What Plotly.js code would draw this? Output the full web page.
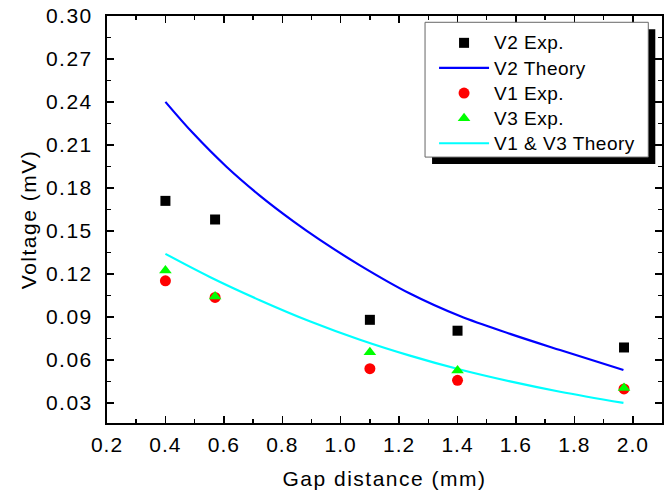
<!DOCTYPE html>
<html>
<head>
<meta charset="utf-8">
<script src="https://cdn.plot.ly/plotly-3.0.1.min.js"></script>
<style>
html,body{margin:0;padding:0;background:#fff;}
#chart{width:672px;height:493px;}
#chart .ytick text{letter-spacing:1.5px;}
#chart .xtick text{letter-spacing:1px;}
#chart .xtitle, #chart .ytitle{letter-spacing:1.5px;}
#chart .legendtext{letter-spacing:0.5px; font-size:19px !important;}
#chart .legend, #chart .legend .scrollbox{clip-path:none !important;}
</style>
</head>
<body>
<div id="chart"></div>
<script>
// Experimental data
const gapExp = [0.40, 0.57, 1.10, 1.40, 1.97];
const v2Exp = [0.171, 0.158, 0.088, 0.0804, 0.0687];
const v1Exp = [0.1152, 0.1036, 0.0539, 0.0458, 0.0398];
const v3Exp = [0.1224, 0.1043, 0.0653, 0.0527, 0.0405];

// Theory curves
const gapTheory = [0.40, 0.495, 0.609, 0.723, 0.837, 0.929, 1.066, 1.237, 1.408, 1.580, 1.751, 1.968];
const v2Theory = [0.2401, 0.2181, 0.1948, 0.1747, 0.1569, 0.1438, 0.1260, 0.1063, 0.0906, 0.0782, 0.0669, 0.0530];
const gapTheory13 = [0.40, 0.552, 0.723, 0.894, 1.066, 1.237, 1.408, 1.580, 1.751, 1.968];
const v13Theory = [0.134, 0.1179, 0.1017, 0.0870, 0.0741, 0.0630, 0.0533, 0.0450, 0.0378, 0.0300];

const yTicks = [0.03, 0.06, 0.09, 0.12, 0.15, 0.18, 0.21, 0.24, 0.27, 0.30];
const xTicks = [0.2, 0.4, 0.6, 0.8, 1.0, 1.2, 1.4, 1.6, 1.8, 2.0];

const FONT = 'Liberation Sans, Arial, Helvetica, sans-serif';

const traces = [
  {x: gapTheory, y: v2Theory, name: 'V2 Theory', mode: 'lines', type: 'scatter',
   line: {color: '#0000ff', width: 2.2, shape: 'spline'}, legendrank: 2},
  {x: gapTheory13, y: v13Theory, name: 'V1 & V3 Theory', mode: 'lines', type: 'scatter',
   line: {color: '#00ffff', width: 2.2, shape: 'spline'}, legendrank: 5},
  {x: gapExp, y: v2Exp, name: 'V2 Exp.', mode: 'markers', type: 'scatter',
   marker: {symbol: 'square', color: '#000000', size: 10}, legendrank: 1},
  {x: gapExp, y: v1Exp, name: 'V1 Exp.', mode: 'markers', type: 'scatter',
   marker: {symbol: 'circle', color: '#ff0000', size: 11}, legendrank: 3},
  {x: gapExp, y: v3Exp, name: 'V3 Exp.', mode: 'markers', type: 'scatter',
   marker: {symbol: 'triangle-up', color: '#00ff00', size: 11}, legendrank: 4}
];

const W = 672, H = 493;
const mL = 107.3, mR = 10.3, mT = 15.7, mB = 69.7;
const pw = W - mL - mR, ph = H - mT - mB;
function px2x(p) { return (p - mL) / pw; }
function py2y(p) { return (H - mB - p) / ph; }

const layout = {
  width: W, height: H,
  margin: {l: mL, r: mR, t: mT, b: mB, pad: 0},
  paper_bgcolor: '#ffffff', plot_bgcolor: '#ffffff',
  font: {family: FONT, size: 20, color: '#000'},
  showlegend: true,
  legend: {
    x: px2x(434), y: py2y(25), xanchor: 'left', yanchor: 'top',
    bgcolor: 'rgba(0,0,0,0)', borderwidth: 0,
    font: {family: FONT, size: 17, color: '#000'},
    itemwidth: 50, tracegroupgap: 0
  },
  shapes: [
    {type: 'rect', xref: 'paper', yref: 'paper',
     x0: px2x(432), x1: px2x(655), y0: py2y(164), y1: py2y(29),
     fillcolor: '#000', line: {width: 0}, layer: 'above'},
    {type: 'rect', xref: 'paper', yref: 'paper',
     x0: px2x(425), x1: px2x(648), y0: py2y(157), y1: py2y(22),
     fillcolor: '#fff', line: {width: 1, color: '#666'}, layer: 'above'}
  ],
  xaxis: {
    range: [0.2, 2.1], tickvals: xTicks, ticktext: xTicks.map(v => v.toFixed(1)),
    ticks: 'inside', ticklen: 7, tickwidth: 1.5, tickcolor: '#000',
    showline: true, linecolor: '#000', linewidth: 2, mirror: 'ticks',
    showgrid: false, zeroline: false,
    minor: {dtick: 0.1, tick0: 0.2, ticks: 'inside', ticklen: 4, tickwidth: 1.5, tickcolor: '#000', showgrid: false},
    tickfont: {family: FONT, size: 21, color: '#000'},
    ticklabelstandoff: 2,
    title: {text: 'Gap distance (mm)', font: {family: FONT, size: 21, color: '#000'}, standoff: 16},
    automargin: false
  },
  yaxis: {
    range: [0.016, 0.30], tickvals: yTicks, ticktext: yTicks.map(v => v.toFixed(2)),
    ticks: 'inside', ticklen: 7, tickwidth: 1.5, tickcolor: '#000',
    showline: true, linecolor: '#000', linewidth: 2, mirror: 'ticks',
    showgrid: false, zeroline: false,
    minor: {dtick: 0.015, tick0: 0.015, ticks: 'inside', ticklen: 4, tickwidth: 1.5, tickcolor: '#000', showgrid: false},
    tickfont: {family: FONT, size: 21, color: '#000'},
    ticklabelstandoff: 8,
    title: {text: 'Voltage (mV)', font: {family: FONT, size: 21, color: '#000'}, standoff: 10},
    automargin: false
  }
};

Plotly.newPlot('chart', traces, layout, {displayModeBar: false, staticPlot: true});
</script>
</body>
</html>
